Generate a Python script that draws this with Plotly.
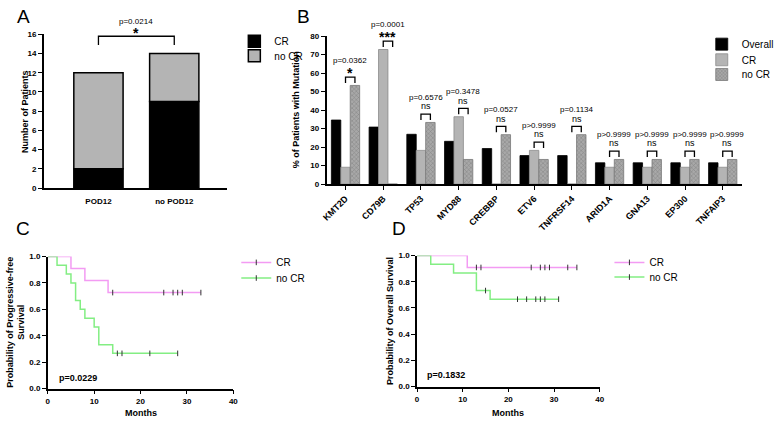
import plotly.graph_objects as go

W, H = 779, 423

# ---------------- data ----------------
# Panel A
a_groups = ["POD12", "no POD12"]
a_cr = [2, 9]
a_nocr = [10, 5]
a_p = "p=0.0214"
a_sig = "*"

# Panel B
genes = ["KMT2D", "CD79B", "TP53", "MYD88", "CREBBP", "ETV6", "TNFRSF14",
         "ARID1A", "GNA13", "EP300", "TNFAIP3"]
b_overall = [34.6, 30.8, 26.9, 23.1, 19.2, 15.4, 15.4, 11.5, 11.5, 11.5, 11.5]
b_cr = [9.1, 72.7, 18.2, 36.4, 0, 18.2, 0, 9.1, 9.1, 9.1, 9.1]
b_nocr = [53.3, 0, 33.3, 13.3, 26.7, 13.3, 26.7, 13.3, 13.3, 13.3, 13.3]
b_p = ["p=0.0362", "p=0.0001", "p=0.6576", "p=0.3478", "p=0.0527", "p>0.9999",
       "p=0.1134", "p>0.9999", "p>0.9999", "p>0.9999", "p>0.9999"]
b_sig = ["*", "***", "ns", "ns", "ns", "ns", "ns", "ns", "ns", "ns", "ns"]

# Panel C (PFS)
c_cr_t = [0, 5, 8, 13, 33]
c_cr_s = [1.0, 0.909, 0.818, 0.727, 0.727]
c_cr_cens = [14, 25, 27, 28, 29, 33]
c_nocr_t = [0, 2, 4, 5, 6, 7, 8, 10, 11, 14, 28]
c_nocr_s = [1.0, 0.933, 0.867, 0.8, 0.667, 0.6, 0.533, 0.467, 0.333, 0.267, 0.267]
c_nocr_cens = [15, 16, 22, 28]
c_p = "p=0.0229"

# Panel D (OS)
d_cr_t = [0, 11, 35]
d_cr_s = [1.0, 0.909, 0.909]
d_cr_cens = [13, 14, 25, 27, 28, 29, 33, 35]
d_nocr_t = [0, 3, 8, 13, 16, 31]
d_nocr_s = [1.0, 0.933, 0.867, 0.733, 0.667, 0.667]
d_nocr_cens = [15, 22, 24, 26, 27, 28, 31]
d_p = "p=0.1832"

PINK = "#F39BF3"
GREEN = "#83EE83"
CRGRAY = "#B4B4B4"
NOCRGRAY = "#9C9C9C"
FONT = "Liberation Sans"

# panel geometry (pixels)
A_X, A_Y = (40, 228), (31, 188)
B_X, B_Y = (331, 758), (32.7, 184)
C_X, C_Y = (44, 235), (258, 393)
D_X, D_Y = (424, 612), (257, 391)
A_XR, A_YR = [-0.72, 1.69], [0, 16]
B_XR, B_YR = [-0.5, 10.5], [0, 80]


def xd(a, b):
    return [a / W, b / W]


def yd(top, bottom):
    return [1 - bottom / H, 1 - top / H]


def px_x(v, dom, rng):
    return dom[0] + (v - rng[0]) / (rng[1] - rng[0]) * (dom[1] - dom[0])


def px_y(v, dom, rng):
    return dom[1] - (v - rng[0]) / (rng[1] - rng[0]) * (dom[1] - dom[0])


def step_at(ts, ss, t):
    v = ss[0]
    for ti, si in zip(ts, ss):
        if ti <= t:
            v = si
    return v


fig = go.Figure()

# ---------------- Panel A ----------------
ax = list(range(len(a_groups)))
fig.add_trace(go.Bar(x=ax, y=a_cr, width=0.65, offset=-0.325, name="CR",
                     marker=dict(color="black", line=dict(color="black", width=1.5)),
                     xaxis="x", yaxis="y", legend="legend"))
fig.add_trace(go.Bar(x=ax, y=a_nocr, base=a_cr, width=0.65, offset=-0.325, name="no CR",
                     marker=dict(color=CRGRAY, line=dict(color="black", width=1.5)),
                     xaxis="x", yaxis="y", legend="legend2"))
a_tot = [c + n for c, n in zip(a_cr, a_nocr)]
a_top = max(a_tot) + 1.8
a_leg = max(a_tot) + 0.9
fig.add_trace(go.Scatter(x=[ax[0], ax[0], ax[1], ax[1]], y=[a_leg, a_top, a_top, a_leg],
                         mode="lines", line=dict(color="black", width=1.3),
                         showlegend=False, hoverinfo="skip", xaxis="x", yaxis="y", cliponaxis=False))

# ---------------- Panel B ----------------
bx = list(range(len(genes)))
bw = 0.25
fig.add_trace(go.Bar(x=bx, y=b_overall, width=bw, offset=-1.5 * bw, name="Overall",
                     marker=dict(color="black", line=dict(color="black", width=0.8)),
                     xaxis="x2", yaxis="y2", legend="legend3"))
fig.add_trace(go.Bar(x=bx, y=b_cr, width=bw, offset=-0.5 * bw, name="CR",
                     marker=dict(color=CRGRAY, line=dict(color="#8a8a8a", width=0.8)),
                     xaxis="x2", yaxis="y2", legend="legend4"))
fig.add_trace(go.Bar(x=bx, y=b_nocr, width=bw, offset=0.5 * bw, name="no CR",
                     marker=dict(color=NOCRGRAY, line=dict(color="#777777", width=0.8),
                                 pattern=dict(shape="x", fgcolor="#666666", bgcolor="#a8a8a8",
                                              size=3, solidity=0.35)),
                     xaxis="x2", yaxis="y2", legend="legend5"))
brx, bry = [], []
b_tops = []
for i in bx:
    m = max(b_cr[i], b_nocr[i])
    top = m + 4.5
    leg = m + 1.3
    b_tops.append(top)
    brx += [i, i, i + bw, i + bw, None]
    bry += [leg, top, top, leg, None]
fig.add_trace(go.Scatter(x=brx, y=bry, mode="lines", line=dict(color="black", width=1.3),
                         showlegend=False, hoverinfo="skip", xaxis="x2", yaxis="y2",
                         cliponaxis=False))

# ---------------- KM panels ----------------
def km(xa, ya, cr_t, cr_s, cr_c, no_t, no_s, no_c, lg1, lg2):
    for t, s, cens, col, nm, lg in [(cr_t, cr_s, cr_c, PINK, "CR", lg1),
                                    (no_t, no_s, no_c, GREEN, "no CR", lg2)]:
        fig.add_trace(go.Scatter(x=t, y=s, mode="lines",
                                 line=dict(color=col, width=1.5, shape="hv"),
                                 showlegend=False, xaxis=xa, yaxis=ya))
        fig.add_trace(go.Scatter(x=cens, y=[step_at(t, s, c) for c in cens], mode="markers",
                                 marker=dict(symbol="line-ns", size=4,
                                             line=dict(color="#333333", width=1)),
                                 showlegend=False, xaxis=xa, yaxis=ya, cliponaxis=False))
        fig.add_trace(go.Scatter(x=[None], y=[None], mode="lines+markers", name=nm,
                                 line=dict(color=col, width=1.5),
                                 marker=dict(symbol="line-ns", size=4,
                                             line=dict(color="#333333", width=1)),
                                 xaxis=xa, yaxis=ya, legend=lg))


km("x3", "y3", c_cr_t, c_cr_s, c_cr_cens, c_nocr_t, c_nocr_s, c_nocr_cens, "legend6", "legend7")
km("x4", "y4", d_cr_t, d_cr_s, d_cr_cens, d_nocr_t, d_nocr_s, d_nocr_cens, "legend8", "legend9")

# ---------------- axes ----------------
tickf = dict(family=FONT, size=8, color="black", weight="bold")
common = dict(showgrid=False, zeroline=False, showline=True, linecolor="black", linewidth=1.6,
              ticks="outside", ticklen=4, tickwidth=1.3, tickcolor="black", tickfont=tickf)

legfont = dict(family=FONT, size=10, color="black")


def lgd(x, y):
    return dict(x=x / W, y=1 - y / H, xanchor="left", yanchor="middle", font=legfont,
                bgcolor="rgba(0,0,0,0)", borderwidth=0)


layout = dict(
    width=W, height=H, margin=dict(l=0, r=0, t=0, b=0),
    paper_bgcolor="white", plot_bgcolor="white", showlegend=True,
    xaxis=dict(domain=xd(*A_X), range=A_XR, tickvals=ax, ticktext=a_groups,
               anchor="y", ticklabelstandoff=5, **{**common, "ticks": ""}),
    yaxis=dict(domain=yd(*A_Y), range=A_YR, dtick=2, anchor="x", **common),
    xaxis2=dict(domain=xd(*B_X), range=B_XR, tickvals=bx, ticktext=genes,
                tickangle=-45, anchor="y2", **{**common, "tickfont": {**tickf, "size": 9}}),
    yaxis2=dict(domain=yd(*B_Y), range=B_YR, dtick=10, anchor="x2", **common),
    xaxis3=dict(domain=xd(*C_X), range=[0, 40], dtick=10, anchor="y3", **common),
    yaxis3=dict(domain=yd(*C_Y), range=[0, 1], dtick=0.2, tickformat=".1f", anchor="x3", **common),
    xaxis4=dict(domain=xd(*D_X), range=[0, 40], dtick=10, anchor="y4", **common),
    yaxis4=dict(domain=yd(*D_Y), range=[0, 1], dtick=0.2, tickformat=".1f", anchor="x4", **common),
    legend=lgd(236, 38), legend2=lgd(236, 53),
    legend3=lgd(717, 41), legend4=lgd(717, 57), legend5=lgd(717, 72),
    legend6=lgd(238, 264), legend7=lgd(238, 280),
    legend8=lgd(622, 264), legend9=lgd(622, 279),
)
fig.update_layout(**layout)

ann = []


def pann(x, y, text, size=8, bold=False, angle=0, xanchor="center", yanchor="middle"):
    ann.append(dict(x=x / W, y=1 - y / H, xref="paper", yref="paper", text=text, showarrow=False,
                    textangle=angle, xanchor=xanchor, yanchor=yanchor,
                    font=dict(family=FONT, size=size, color="black",
                              weight="bold" if bold else "normal")))


# panel letters
pann(19, 13, "A", size=19)
pann(307, 13, "B", size=19)
pann(19, 229, "C", size=19)
pann(405, 229, "D", size=19)

# axis titles
pann(20, 110, "Number of Patients", size=9, bold=True, angle=-90)
pann(299, 108, "% of Patients with Mutation", size=9, bold=True, angle=-90)
pann(11, 325, "Probability of Progressive-free<br>Survival", size=9, bold=True, angle=-90)
pann(396, 324, "Probability of Overall Survival", size=9, bold=True, angle=-90)
pann(140, 418, "Months", size=9, bold=True)
pann(518, 418, "Months", size=9, bold=True)

# p-values in KM
pann(53, 382, c_p, size=9, bold=True, xanchor="left")
pann(432, 379, d_p, size=9, bold=True, xanchor="left")

# Panel A significance
a_cx = px_x(0.5, A_X, A_XR)
a_ty = px_y(a_top, A_Y, A_YR)
pann(a_cx, a_ty - 3, a_sig, size=14, bold=True)
pann(a_cx, a_ty - 15, a_p, size=8)

# Panel B significance
for i in bx:
    cx = px_x(i + bw / 2, B_X, B_XR)
    ty = px_y(b_tops[i], B_Y, B_YR)
    if b_sig[i].startswith("*"):
        pann(cx, ty - 4, b_sig[i], size=14, bold=True)
    else:
        pann(cx, ty - 8, b_sig[i], size=9)
    pann(cx, ty - 17, b_p[i], size=8)

fig.update_layout(annotations=ann)
fig.write_html("out.html")
